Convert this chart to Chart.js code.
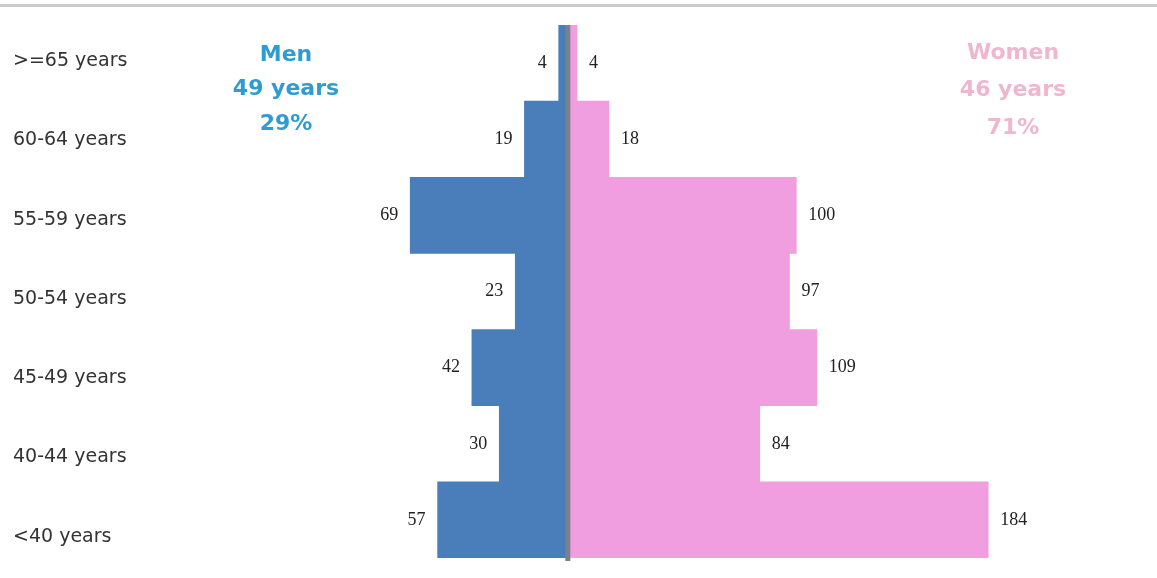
<!DOCTYPE html>
<html>
<head>
<meta charset="utf-8">
<script src="https://cdn.jsdelivr.net/npm/chart.js@4.4.1/dist/chart.umd.min.js"></script>
<style>
  html, body { margin: 0; padding: 0; background: #fff; }
  #wrap { position: relative; width: 1157px; height: 578px; }
  #topline { position: absolute; left: 0; top: 4px; width: 1157px; height: 3px; background: #cccccc; }
</style>
</head>
<body>
<div id="wrap">
  <div id="topline"></div>
  <canvas id="pyramid"></canvas>
</div>
<script>
// age groups, top to bottom
var categories = ['>=65 years', '60-64 years', '55-59 years', '50-54 years', '45-49 years', '40-44 years', '<40 years'];
var men = [4, 19, 69, 23, 42, 30, 57];
var women = [4, 18, 100, 97, 109, 84, 184];

var menColor = '#4a7ebb';
var womenColor = '#f09ee0';

// value labels next to each bar end
var valueLabels = {
  id: 'valueLabels',
  afterDatasetsDraw: function (chart) {
    var ctx = chart.ctx;
    ctx.save();
    ctx.font = '18px "Liberation Serif"';
    ctx.fillStyle = '#222';
    ctx.textBaseline = 'middle';
    chart.data.datasets.forEach(function (ds, di) {
      var meta = chart.getDatasetMeta(di);
      meta.data.forEach(function (bar, i) {
        var v = Math.abs(ds.data[i]);
        if (ds.data[i] < 0) {
          ctx.textAlign = 'right';
          ctx.fillText(v, bar.x - 12, bar.y);
        } else {
          ctx.textAlign = 'left';
          ctx.fillText(v, bar.x + 12, bar.y);
        }
      });
    });
    ctx.restore();
  }
};

// grey zero line + Men / Women captions
var decorations = {
  id: 'decorations',
  afterDatasetsDraw: function (chart) {
    var ctx = chart.ctx;
    var area = chart.chartArea;
    var x0 = chart.scales.x.getPixelForValue(0);
    ctx.save();
    ctx.fillStyle = '#7b8089';
    ctx.fillRect(x0 - 2.5, area.top, 5, area.bottom - area.top + 3);

    ctx.font = 'bold 22px "DejaVu Sans"';
    ctx.textAlign = 'center';
    ctx.textBaseline = 'middle';
    ctx.fillStyle = '#2e9bd3';
    ctx.fillText('Men', 286, 55);
    ctx.fillText('49 years', 286, 89);
    ctx.fillText('29%', 286, 124);
    ctx.fillStyle = '#f0b6cf';
    ctx.fillText('Women', 1013, 53);
    ctx.fillText('46 years', 1013, 90);
    ctx.fillText('71%', 1013, 128);
    ctx.restore();
  }
};

var ctx = document.getElementById('pyramid').getContext('2d');
var chart = new Chart(ctx, {
  type: 'bar',
  data: {
    labels: categories,
    datasets: [{
      label: 'Men',
      data: men.map(function (v) { return -v; }),
      backgroundColor: menColor,
      borderWidth: 0,
      barPercentage: 1,
      categoryPercentage: 1
    }, {
      label: 'Women',
      data: women,
      backgroundColor: womenColor,
      borderWidth: 0,
      barPercentage: 1,
      categoryPercentage: 1
    }]
  },
  options: {
    indexAxis: 'y',
    responsive: true,
    maintainAspectRatio: false,
    animation: false,
    layout: { padding: { top: 25, bottom: 20, left: 13, right: 18 } },
    plugins: {
      legend: { display: false },
      tooltip: { enabled: false }
    },
    scales: {
      x: {
        stacked: true,
        display: false,
        min: -161,
        max: 250
      },
      y: {
        stacked: true,
        display: false
      },
      // separate axis only for the age labels on the left
      yl: {
        type: 'linear',
        position: 'left',
        reverse: true,
        offset: false,
        min: -0.456,
        max: 6.27,
        grid: { display: false, offset: false },
        border: { display: false },
        afterBuildTicks: function (axis) {
          axis.ticks = categories.map(function (c, i) { return { value: i }; });
        },
        afterFit: function (scale) { scale.width = 187; },
        ticks: {
          crossAlign: 'far',
          padding: 0,
          color: '#333',
          font: { family: '"DejaVu Sans"', size: 19 },
          callback: function (v) { return categories[v]; }
        }
      }
    }
  },
  plugins: [valueLabels, decorations]
});
</script>
</body>
</html>
